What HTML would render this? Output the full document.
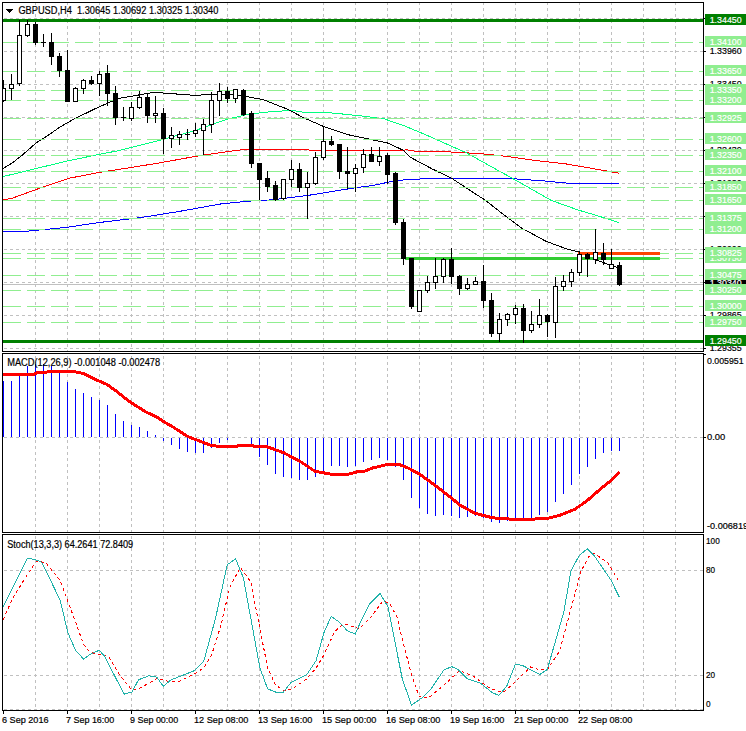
<!DOCTYPE html>
<html><head><meta charset="utf-8"><style>
html,body{margin:0;padding:0;background:#fff;width:746px;height:731px;overflow:hidden}
svg{display:block;font-family:"Liberation Sans", sans-serif}
</style></head><body>
<svg width="746" height="731" viewBox="0 0 746 731" shape-rendering="crispEdges"><defs><clipPath id="cm"><rect x="3" y="3" width="700" height="348"/></clipPath><clipPath id="cd"><rect x="3" y="354" width="700" height="178"/></clipPath><clipPath id="cs"><rect x="3" y="535" width="700" height="175"/></clipPath></defs><g clip-path="url(#cm)"><line x1="35.5" y1="3" x2="35.5" y2="351" stroke="#c0c0c0" stroke-dasharray="3 3" stroke-dashoffset="1"/><line x1="67.5" y1="3" x2="67.5" y2="351" stroke="#c0c0c0" stroke-dasharray="3 3" stroke-dashoffset="1"/><line x1="99.5" y1="3" x2="99.5" y2="351" stroke="#c0c0c0" stroke-dasharray="3 3" stroke-dashoffset="1"/><line x1="131.5" y1="3" x2="131.5" y2="351" stroke="#c0c0c0" stroke-dasharray="3 3" stroke-dashoffset="1"/><line x1="163.5" y1="3" x2="163.5" y2="351" stroke="#c0c0c0" stroke-dasharray="3 3" stroke-dashoffset="1"/><line x1="195.5" y1="3" x2="195.5" y2="351" stroke="#c0c0c0" stroke-dasharray="3 3" stroke-dashoffset="1"/><line x1="227.5" y1="3" x2="227.5" y2="351" stroke="#c0c0c0" stroke-dasharray="3 3" stroke-dashoffset="1"/><line x1="259.5" y1="3" x2="259.5" y2="351" stroke="#c0c0c0" stroke-dasharray="3 3" stroke-dashoffset="1"/><line x1="291.5" y1="3" x2="291.5" y2="351" stroke="#c0c0c0" stroke-dasharray="3 3" stroke-dashoffset="1"/><line x1="323.5" y1="3" x2="323.5" y2="351" stroke="#c0c0c0" stroke-dasharray="3 3" stroke-dashoffset="1"/><line x1="355.5" y1="3" x2="355.5" y2="351" stroke="#c0c0c0" stroke-dasharray="3 3" stroke-dashoffset="1"/><line x1="387.5" y1="3" x2="387.5" y2="351" stroke="#c0c0c0" stroke-dasharray="3 3" stroke-dashoffset="1"/><line x1="419.5" y1="3" x2="419.5" y2="351" stroke="#c0c0c0" stroke-dasharray="3 3" stroke-dashoffset="1"/><line x1="451.5" y1="3" x2="451.5" y2="351" stroke="#c0c0c0" stroke-dasharray="3 3" stroke-dashoffset="1"/><line x1="483.5" y1="3" x2="483.5" y2="351" stroke="#c0c0c0" stroke-dasharray="3 3" stroke-dashoffset="1"/><line x1="515.5" y1="3" x2="515.5" y2="351" stroke="#c0c0c0" stroke-dasharray="3 3" stroke-dashoffset="1"/><line x1="547.5" y1="3" x2="547.5" y2="351" stroke="#c0c0c0" stroke-dasharray="3 3" stroke-dashoffset="1"/><line x1="579.5" y1="3" x2="579.5" y2="351" stroke="#c0c0c0" stroke-dasharray="3 3" stroke-dashoffset="1"/><line x1="611.5" y1="3" x2="611.5" y2="351" stroke="#c0c0c0" stroke-dasharray="3 3" stroke-dashoffset="1"/><line x1="643.5" y1="3" x2="643.5" y2="351" stroke="#c0c0c0" stroke-dasharray="3 3" stroke-dashoffset="1"/><line x1="675.5" y1="3" x2="675.5" y2="351" stroke="#c0c0c0" stroke-dasharray="3 3" stroke-dashoffset="1"/><line x1="3" y1="18.5" x2="703" y2="18.5" stroke="#c0c0c0" stroke-dasharray="3 3" stroke-dashoffset="5"/><line x1="3" y1="51.5" x2="703" y2="51.5" stroke="#c0c0c0" stroke-dasharray="3 3" stroke-dashoffset="5"/><line x1="3" y1="84.5" x2="703" y2="84.5" stroke="#c0c0c0" stroke-dasharray="3 3" stroke-dashoffset="5"/><line x1="3" y1="117.5" x2="703" y2="117.5" stroke="#c0c0c0" stroke-dasharray="3 3" stroke-dashoffset="5"/><line x1="3" y1="150.5" x2="703" y2="150.5" stroke="#c0c0c0" stroke-dasharray="3 3" stroke-dashoffset="5"/><line x1="3" y1="183.5" x2="703" y2="183.5" stroke="#c0c0c0" stroke-dasharray="3 3" stroke-dashoffset="5"/><line x1="3" y1="216.5" x2="703" y2="216.5" stroke="#c0c0c0" stroke-dasharray="3 3" stroke-dashoffset="5"/><line x1="3" y1="249.5" x2="703" y2="249.5" stroke="#c0c0c0" stroke-dasharray="3 3" stroke-dashoffset="5"/><line x1="3" y1="282.5" x2="703" y2="282.5" stroke="#c0c0c0" stroke-dasharray="3 3" stroke-dashoffset="5"/><line x1="3" y1="315.5" x2="703" y2="315.5" stroke="#c0c0c0" stroke-dasharray="3 3" stroke-dashoffset="5"/><line x1="3" y1="348.5" x2="703" y2="348.5" stroke="#c0c0c0" stroke-dasharray="3 3" stroke-dashoffset="5"/><polyline points="3.0,199.9 11.5,198.5 37.8,188.9 68.9,178.3 98.5,172.5 120.0,169.2 157.9,163.2 200.8,155.4 241.1,149.8 296.0,149.8 335.4,150.4 407.6,150.0 415.8,151.3 448.7,151.9 480.0,153.6 504.3,156.1 534.3,160.4 566.5,164.0 598.7,169.6 619.0,173.2" fill="none" stroke="#ff0000" stroke-width="1" shape-rendering="crispEdges"/><polyline points="3.0,231.6 23.0,231.6 39.4,230.0 65.7,227.5 98.5,222.6 140.7,217.6 179.3,211.4 222.2,203.7 256.6,200.5 271.3,199.9 307.5,195.5 355.0,187.8 373.1,185.5 392.8,181.2 401.0,180.1 422.4,178.9 512.9,178.6 519.3,179.2 542.9,180.8 568.7,183.3 619.0,183.3" fill="none" stroke="#0000ff" stroke-width="1" shape-rendering="crispEdges"/><polyline points="3.0,176.6 23.0,171.7 67.3,161.0 98.5,154.5 116.3,151.1 162.3,139.6 195.1,130.6 226.3,119.4 249.3,114.1 270.7,111.7 292.0,110.4 303.5,112.3 325.0,112.3 341.4,113.9 362.9,116.1 384.3,118.9 405.8,126.4 427.2,135.4 448.7,145.0 465.8,152.5 480.0,160.4 512.9,178.6 551.5,200.5 577.2,209.7 598.7,216.1 619.0,222.6" fill="none" stroke="#00ff7f" stroke-width="1" shape-rendering="crispEdges"/><polyline points="3.0,168.4 12.3,163.0 23.0,154.5 36.1,143.0 47.6,135.6 60.7,126.6 72.2,120.0 95.0,108.8 118.0,98.6 154.0,92.3 193.5,95.3 215.0,94.5 238.0,95.1 246.1,96.4 262.2,99.5 266.9,101.1 289.0,109.8 302.4,117.2 323.8,126.6 348.5,134.8 368.2,138.9 387.9,143.1 402.7,150.0 410.9,157.6 431.5,168.6 451.9,178.4 470.0,190.4 485.0,200.0 504.3,215.1 521.5,228.0 546.0,241.3 567.4,249.2 578.9,252.0 597.0,260.2 610.0,265.1 619.0,267.8" fill="none" stroke="#000000" stroke-width="1" shape-rendering="crispEdges"/><line x1="3" y1="42.5" x2="703" y2="42.5" stroke="#90ee90" stroke-dasharray="18 6"/><line x1="3" y1="71.5" x2="703" y2="71.5" stroke="#90ee90" stroke-dasharray="18 6"/><line x1="3" y1="90.5" x2="703" y2="90.5" stroke="#90ee90" stroke-dasharray="18 6"/><line x1="3" y1="100.5" x2="703" y2="100.5" stroke="#90ee90" stroke-dasharray="18 6"/><line x1="3" y1="118.5" x2="703" y2="118.5" stroke="#90ee90" stroke-dasharray="18 6"/><line x1="3" y1="139.5" x2="703" y2="139.5" stroke="#90ee90" stroke-dasharray="18 6"/><line x1="3" y1="155.5" x2="703" y2="155.5" stroke="#90ee90" stroke-dasharray="18 6"/><line x1="3" y1="171.5" x2="703" y2="171.5" stroke="#90ee90" stroke-dasharray="18 6"/><line x1="3" y1="187.5" x2="703" y2="187.5" stroke="#90ee90" stroke-dasharray="18 6"/><line x1="3" y1="200.5" x2="703" y2="200.5" stroke="#90ee90" stroke-dasharray="18 6"/><line x1="3" y1="218.5" x2="703" y2="218.5" stroke="#90ee90" stroke-dasharray="18 6"/><line x1="3" y1="229.5" x2="703" y2="229.5" stroke="#90ee90" stroke-dasharray="18 6"/><line x1="3" y1="253.5" x2="703" y2="253.5" stroke="#90ee90" stroke-dasharray="18 6"/><line x1="3" y1="258.5" x2="703" y2="258.5" stroke="#90ee90" stroke-dasharray="18 6"/><line x1="3" y1="275.5" x2="703" y2="275.5" stroke="#90ee90" stroke-dasharray="18 6"/><line x1="3" y1="290.5" x2="703" y2="290.5" stroke="#90ee90" stroke-dasharray="18 6"/><line x1="3" y1="306.5" x2="703" y2="306.5" stroke="#90ee90" stroke-dasharray="18 6"/><line x1="3" y1="322.5" x2="703" y2="322.5" stroke="#90ee90" stroke-dasharray="18 6"/><line x1="3" y1="284.5" x2="703" y2="284.5" stroke="#c0c0c0"/><rect x="3" y="19" width="700" height="3" fill="#008000"/><rect x="3" y="340" width="700" height="3" fill="#008000"/><rect x="405" y="257" width="255" height="3" fill="#32cd32"/><rect x="578" y="252" width="82" height="3" fill="#ff4500"/><rect x="3" y="80" width="1" height="22" fill="#000"/><rect x="1" y="88" width="5" height="13" fill="#000"/><rect x="2" y="89" width="3" height="11" fill="#fff"/><rect x="11" y="74" width="1" height="26" fill="#000"/><rect x="9" y="84" width="5" height="5" fill="#000"/><rect x="10" y="85" width="3" height="3" fill="#fff"/><rect x="19" y="20" width="1" height="66" fill="#000"/><rect x="17" y="35" width="5" height="49" fill="#000"/><rect x="18" y="36" width="3" height="47" fill="#fff"/><rect x="27" y="20" width="1" height="17" fill="#000"/><rect x="25" y="24" width="5" height="12" fill="#000"/><rect x="26" y="25" width="3" height="10" fill="#fff"/><rect x="35" y="22" width="1" height="23" fill="#000"/><rect x="33" y="24" width="5" height="19" fill="#000"/><rect x="43" y="34" width="1" height="13" fill="#000"/><rect x="41" y="42" width="5" height="1" fill="#000"/><rect x="51" y="33" width="1" height="32" fill="#000"/><rect x="49" y="42" width="5" height="15" fill="#000"/><rect x="59" y="53" width="1" height="24" fill="#000"/><rect x="57" y="56" width="5" height="15" fill="#000"/><rect x="67" y="50" width="1" height="52" fill="#000"/><rect x="65" y="70" width="5" height="32" fill="#000"/><rect x="75" y="87" width="1" height="15" fill="#000"/><rect x="73" y="88" width="5" height="14" fill="#000"/><rect x="74" y="89" width="3" height="12" fill="#fff"/><rect x="83" y="79" width="1" height="15" fill="#000"/><rect x="81" y="80" width="5" height="9" fill="#000"/><rect x="82" y="81" width="3" height="7" fill="#fff"/><rect x="91" y="76" width="1" height="9" fill="#000"/><rect x="89" y="80" width="5" height="4" fill="#000"/><rect x="99" y="71" width="1" height="25" fill="#000"/><rect x="97" y="74" width="5" height="10" fill="#000"/><rect x="98" y="75" width="3" height="8" fill="#fff"/><rect x="107" y="65" width="1" height="41" fill="#000"/><rect x="105" y="73" width="5" height="21" fill="#000"/><rect x="115" y="86" width="1" height="39" fill="#000"/><rect x="113" y="93" width="5" height="25" fill="#000"/><rect x="123" y="107" width="1" height="14" fill="#000"/><rect x="121" y="117" width="5" height="1" fill="#000"/><rect x="131" y="102" width="1" height="19" fill="#000"/><rect x="129" y="107" width="5" height="12" fill="#000"/><rect x="130" y="108" width="3" height="10" fill="#fff"/><rect x="139" y="91" width="1" height="18" fill="#000"/><rect x="137" y="97" width="5" height="11" fill="#000"/><rect x="138" y="98" width="3" height="9" fill="#fff"/><rect x="147" y="93" width="1" height="30" fill="#000"/><rect x="145" y="97" width="5" height="19" fill="#000"/><rect x="155" y="96" width="1" height="27" fill="#000"/><rect x="153" y="113" width="5" height="3" fill="#000"/><rect x="154" y="114" width="3" height="1" fill="#fff"/><rect x="163" y="108" width="1" height="46" fill="#000"/><rect x="161" y="113" width="5" height="26" fill="#000"/><rect x="171" y="127" width="1" height="21" fill="#000"/><rect x="169" y="135" width="5" height="4" fill="#000"/><rect x="170" y="136" width="3" height="2" fill="#fff"/><rect x="179" y="131" width="1" height="14" fill="#000"/><rect x="177" y="134" width="5" height="4" fill="#000"/><rect x="178" y="135" width="3" height="2" fill="#fff"/><rect x="187" y="129" width="1" height="11" fill="#000"/><rect x="185" y="134" width="5" height="1" fill="#000"/><rect x="195" y="123" width="1" height="14" fill="#000"/><rect x="193" y="130" width="5" height="4" fill="#000"/><rect x="194" y="131" width="3" height="2" fill="#fff"/><rect x="203" y="119" width="1" height="36" fill="#000"/><rect x="201" y="124" width="5" height="7" fill="#000"/><rect x="202" y="125" width="3" height="5" fill="#fff"/><rect x="211" y="92" width="1" height="41" fill="#000"/><rect x="209" y="100" width="5" height="25" fill="#000"/><rect x="210" y="101" width="3" height="23" fill="#fff"/><rect x="219" y="83" width="1" height="33" fill="#000"/><rect x="217" y="91" width="5" height="10" fill="#000"/><rect x="218" y="92" width="3" height="8" fill="#fff"/><rect x="227" y="87" width="1" height="16" fill="#000"/><rect x="225" y="91" width="5" height="8" fill="#000"/><rect x="235" y="89" width="1" height="14" fill="#000"/><rect x="233" y="89" width="5" height="10" fill="#000"/><rect x="234" y="90" width="3" height="8" fill="#fff"/><rect x="243" y="89" width="1" height="27" fill="#000"/><rect x="241" y="90" width="5" height="25" fill="#000"/><rect x="251" y="111" width="1" height="57" fill="#000"/><rect x="249" y="113" width="5" height="51" fill="#000"/><rect x="259" y="163" width="1" height="37" fill="#000"/><rect x="257" y="163" width="5" height="17" fill="#000"/><rect x="267" y="171" width="1" height="21" fill="#000"/><rect x="265" y="178" width="5" height="9" fill="#000"/><rect x="275" y="181" width="1" height="20" fill="#000"/><rect x="273" y="185" width="5" height="15" fill="#000"/><rect x="283" y="179" width="1" height="21" fill="#000"/><rect x="281" y="179" width="5" height="20" fill="#000"/><rect x="282" y="180" width="3" height="18" fill="#fff"/><rect x="291" y="160" width="1" height="27" fill="#000"/><rect x="289" y="169" width="5" height="11" fill="#000"/><rect x="290" y="170" width="3" height="9" fill="#fff"/><rect x="299" y="163" width="1" height="29" fill="#000"/><rect x="297" y="169" width="5" height="19" fill="#000"/><rect x="307" y="172" width="1" height="47" fill="#000"/><rect x="305" y="183" width="5" height="5" fill="#000"/><rect x="306" y="184" width="3" height="3" fill="#fff"/><rect x="315" y="152" width="1" height="33" fill="#000"/><rect x="313" y="157" width="5" height="27" fill="#000"/><rect x="314" y="158" width="3" height="25" fill="#fff"/><rect x="323" y="126" width="1" height="34" fill="#000"/><rect x="321" y="141" width="5" height="17" fill="#000"/><rect x="322" y="142" width="3" height="15" fill="#fff"/><rect x="331" y="136" width="1" height="10" fill="#000"/><rect x="329" y="141" width="5" height="4" fill="#000"/><rect x="339" y="144" width="1" height="35" fill="#000"/><rect x="337" y="144" width="5" height="28" fill="#000"/><rect x="347" y="147" width="1" height="42" fill="#000"/><rect x="345" y="171" width="5" height="3" fill="#000"/><rect x="355" y="164" width="1" height="28" fill="#000"/><rect x="353" y="168" width="5" height="6" fill="#000"/><rect x="354" y="169" width="3" height="4" fill="#fff"/><rect x="363" y="149" width="1" height="24" fill="#000"/><rect x="361" y="154" width="5" height="14" fill="#000"/><rect x="362" y="155" width="3" height="12" fill="#fff"/><rect x="371" y="147" width="1" height="15" fill="#000"/><rect x="369" y="154" width="5" height="8" fill="#000"/><rect x="379" y="147" width="1" height="19" fill="#000"/><rect x="377" y="156" width="5" height="6" fill="#000"/><rect x="378" y="157" width="3" height="4" fill="#fff"/><rect x="387" y="153" width="1" height="31" fill="#000"/><rect x="385" y="155" width="5" height="20" fill="#000"/><rect x="395" y="172" width="1" height="53" fill="#000"/><rect x="393" y="173" width="5" height="50" fill="#000"/><rect x="403" y="219" width="1" height="46" fill="#000"/><rect x="401" y="222" width="5" height="37" fill="#000"/><rect x="411" y="258" width="1" height="51" fill="#000"/><rect x="409" y="258" width="5" height="49" fill="#000"/><rect x="419" y="290" width="1" height="22" fill="#000"/><rect x="417" y="290" width="5" height="22" fill="#000"/><rect x="418" y="291" width="3" height="20" fill="#fff"/><rect x="427" y="276" width="1" height="17" fill="#000"/><rect x="425" y="282" width="5" height="9" fill="#000"/><rect x="426" y="283" width="3" height="7" fill="#fff"/><rect x="435" y="258" width="1" height="31" fill="#000"/><rect x="433" y="276" width="5" height="7" fill="#000"/><rect x="434" y="277" width="3" height="5" fill="#fff"/><rect x="443" y="258" width="1" height="25" fill="#000"/><rect x="441" y="259" width="5" height="18" fill="#000"/><rect x="442" y="260" width="3" height="16" fill="#fff"/><rect x="451" y="248" width="1" height="36" fill="#000"/><rect x="449" y="259" width="5" height="18" fill="#000"/><rect x="459" y="275" width="1" height="20" fill="#000"/><rect x="457" y="276" width="5" height="13" fill="#000"/><rect x="467" y="278" width="1" height="12" fill="#000"/><rect x="465" y="284" width="5" height="5" fill="#000"/><rect x="466" y="285" width="3" height="3" fill="#fff"/><rect x="475" y="277" width="1" height="8" fill="#000"/><rect x="473" y="281" width="5" height="4" fill="#000"/><rect x="474" y="282" width="3" height="2" fill="#fff"/><rect x="483" y="265" width="1" height="43" fill="#000"/><rect x="481" y="281" width="5" height="20" fill="#000"/><rect x="491" y="293" width="1" height="44" fill="#000"/><rect x="489" y="300" width="5" height="34" fill="#000"/><rect x="499" y="313" width="1" height="29" fill="#000"/><rect x="497" y="319" width="5" height="15" fill="#000"/><rect x="498" y="320" width="3" height="13" fill="#fff"/><rect x="507" y="313" width="1" height="13" fill="#000"/><rect x="505" y="314" width="5" height="6" fill="#000"/><rect x="506" y="315" width="3" height="4" fill="#fff"/><rect x="515" y="305" width="1" height="19" fill="#000"/><rect x="513" y="308" width="5" height="7" fill="#000"/><rect x="514" y="309" width="3" height="5" fill="#fff"/><rect x="523" y="304" width="1" height="39" fill="#000"/><rect x="521" y="308" width="5" height="23" fill="#000"/><rect x="531" y="311" width="1" height="22" fill="#000"/><rect x="529" y="324" width="5" height="7" fill="#000"/><rect x="530" y="325" width="3" height="5" fill="#fff"/><rect x="539" y="299" width="1" height="29" fill="#000"/><rect x="537" y="315" width="5" height="10" fill="#000"/><rect x="538" y="316" width="3" height="8" fill="#fff"/><rect x="547" y="314" width="1" height="23" fill="#000"/><rect x="545" y="315" width="5" height="7" fill="#000"/><rect x="555" y="277" width="1" height="61" fill="#000"/><rect x="553" y="286" width="5" height="37" fill="#000"/><rect x="554" y="287" width="3" height="35" fill="#fff"/><rect x="563" y="275" width="1" height="16" fill="#000"/><rect x="561" y="281" width="5" height="6" fill="#000"/><rect x="562" y="282" width="3" height="4" fill="#fff"/><rect x="571" y="269" width="1" height="18" fill="#000"/><rect x="569" y="272" width="5" height="10" fill="#000"/><rect x="570" y="273" width="3" height="8" fill="#fff"/><rect x="579" y="251" width="1" height="25" fill="#000"/><rect x="577" y="254" width="5" height="19" fill="#000"/><rect x="578" y="255" width="3" height="17" fill="#fff"/><rect x="587" y="253" width="1" height="24" fill="#000"/><rect x="585" y="254" width="5" height="5" fill="#000"/><rect x="595" y="229" width="1" height="35" fill="#000"/><rect x="593" y="252" width="5" height="8" fill="#000"/><rect x="594" y="253" width="3" height="6" fill="#fff"/><rect x="603" y="243" width="1" height="22" fill="#000"/><rect x="601" y="253" width="5" height="7" fill="#000"/><rect x="611" y="249" width="1" height="20" fill="#000"/><rect x="609" y="264" width="5" height="5" fill="#000"/><rect x="610" y="265" width="3" height="3" fill="#fff"/><rect x="619" y="262" width="1" height="24" fill="#000"/><rect x="617" y="265" width="5" height="20" fill="#000"/></g><g clip-path="url(#cd)"><line x1="35.5" y1="354" x2="35.5" y2="532" stroke="#c0c0c0" stroke-dasharray="3 3" stroke-dashoffset="4"/><line x1="67.5" y1="354" x2="67.5" y2="532" stroke="#c0c0c0" stroke-dasharray="3 3" stroke-dashoffset="4"/><line x1="99.5" y1="354" x2="99.5" y2="532" stroke="#c0c0c0" stroke-dasharray="3 3" stroke-dashoffset="4"/><line x1="131.5" y1="354" x2="131.5" y2="532" stroke="#c0c0c0" stroke-dasharray="3 3" stroke-dashoffset="4"/><line x1="163.5" y1="354" x2="163.5" y2="532" stroke="#c0c0c0" stroke-dasharray="3 3" stroke-dashoffset="4"/><line x1="195.5" y1="354" x2="195.5" y2="532" stroke="#c0c0c0" stroke-dasharray="3 3" stroke-dashoffset="4"/><line x1="227.5" y1="354" x2="227.5" y2="532" stroke="#c0c0c0" stroke-dasharray="3 3" stroke-dashoffset="4"/><line x1="259.5" y1="354" x2="259.5" y2="532" stroke="#c0c0c0" stroke-dasharray="3 3" stroke-dashoffset="4"/><line x1="291.5" y1="354" x2="291.5" y2="532" stroke="#c0c0c0" stroke-dasharray="3 3" stroke-dashoffset="4"/><line x1="323.5" y1="354" x2="323.5" y2="532" stroke="#c0c0c0" stroke-dasharray="3 3" stroke-dashoffset="4"/><line x1="355.5" y1="354" x2="355.5" y2="532" stroke="#c0c0c0" stroke-dasharray="3 3" stroke-dashoffset="4"/><line x1="387.5" y1="354" x2="387.5" y2="532" stroke="#c0c0c0" stroke-dasharray="3 3" stroke-dashoffset="4"/><line x1="419.5" y1="354" x2="419.5" y2="532" stroke="#c0c0c0" stroke-dasharray="3 3" stroke-dashoffset="4"/><line x1="451.5" y1="354" x2="451.5" y2="532" stroke="#c0c0c0" stroke-dasharray="3 3" stroke-dashoffset="4"/><line x1="483.5" y1="354" x2="483.5" y2="532" stroke="#c0c0c0" stroke-dasharray="3 3" stroke-dashoffset="4"/><line x1="515.5" y1="354" x2="515.5" y2="532" stroke="#c0c0c0" stroke-dasharray="3 3" stroke-dashoffset="4"/><line x1="547.5" y1="354" x2="547.5" y2="532" stroke="#c0c0c0" stroke-dasharray="3 3" stroke-dashoffset="4"/><line x1="579.5" y1="354" x2="579.5" y2="532" stroke="#c0c0c0" stroke-dasharray="3 3" stroke-dashoffset="4"/><line x1="611.5" y1="354" x2="611.5" y2="532" stroke="#c0c0c0" stroke-dasharray="3 3" stroke-dashoffset="4"/><line x1="643.5" y1="354" x2="643.5" y2="532" stroke="#c0c0c0" stroke-dasharray="3 3" stroke-dashoffset="4"/><line x1="675.5" y1="354" x2="675.5" y2="532" stroke="#c0c0c0" stroke-dasharray="3 3" stroke-dashoffset="4"/><line x1="3" y1="437.5" x2="703" y2="437.5" stroke="#c0c0c0" stroke-dasharray="3 3" stroke-dashoffset="5"/><rect x="3" y="381" width="1" height="56" fill="#0000ff"/><rect x="11" y="381" width="1" height="56" fill="#0000ff"/><rect x="19" y="375" width="1" height="62" fill="#0000ff"/><rect x="27" y="366" width="1" height="71" fill="#0000ff"/><rect x="35" y="364" width="1" height="73" fill="#0000ff"/><rect x="43" y="364" width="1" height="73" fill="#0000ff"/><rect x="51" y="366" width="1" height="71" fill="#0000ff"/><rect x="59" y="373" width="1" height="64" fill="#0000ff"/><rect x="67" y="382" width="1" height="55" fill="#0000ff"/><rect x="75" y="389" width="1" height="48" fill="#0000ff"/><rect x="83" y="393" width="1" height="44" fill="#0000ff"/><rect x="91" y="397" width="1" height="40" fill="#0000ff"/><rect x="99" y="400" width="1" height="37" fill="#0000ff"/><rect x="107" y="405" width="1" height="32" fill="#0000ff"/><rect x="115" y="414" width="1" height="23" fill="#0000ff"/><rect x="123" y="421" width="1" height="16" fill="#0000ff"/><rect x="131" y="425" width="1" height="12" fill="#0000ff"/><rect x="139" y="427" width="1" height="10" fill="#0000ff"/><rect x="147" y="431" width="1" height="6" fill="#0000ff"/><rect x="155" y="435" width="1" height="2" fill="#0000ff"/><rect x="163" y="438" width="1" height="3" fill="#0000ff"/><rect x="171" y="438" width="1" height="7" fill="#0000ff"/><rect x="179" y="438" width="1" height="11" fill="#0000ff"/><rect x="187" y="438" width="1" height="14" fill="#0000ff"/><rect x="195" y="438" width="1" height="15" fill="#0000ff"/><rect x="203" y="438" width="1" height="15" fill="#0000ff"/><rect x="211" y="438" width="1" height="10" fill="#0000ff"/><rect x="219" y="438" width="1" height="5" fill="#0000ff"/><rect x="227" y="438" width="1" height="2" fill="#0000ff"/><rect x="251" y="438" width="1" height="7" fill="#0000ff"/><rect x="259" y="438" width="1" height="19" fill="#0000ff"/><rect x="267" y="438" width="1" height="27" fill="#0000ff"/><rect x="275" y="438" width="1" height="36" fill="#0000ff"/><rect x="283" y="438" width="1" height="39" fill="#0000ff"/><rect x="291" y="438" width="1" height="40" fill="#0000ff"/><rect x="299" y="438" width="1" height="42" fill="#0000ff"/><rect x="307" y="438" width="1" height="42" fill="#0000ff"/><rect x="315" y="438" width="1" height="39" fill="#0000ff"/><rect x="323" y="438" width="1" height="33" fill="#0000ff"/><rect x="331" y="438" width="1" height="28" fill="#0000ff"/><rect x="339" y="438" width="1" height="28" fill="#0000ff"/><rect x="347" y="438" width="1" height="29" fill="#0000ff"/><rect x="355" y="438" width="1" height="28" fill="#0000ff"/><rect x="363" y="438" width="1" height="24" fill="#0000ff"/><rect x="371" y="438" width="1" height="22" fill="#0000ff"/><rect x="379" y="438" width="1" height="20" fill="#0000ff"/><rect x="387" y="438" width="1" height="22" fill="#0000ff"/><rect x="395" y="438" width="1" height="29" fill="#0000ff"/><rect x="403" y="438" width="1" height="42" fill="#0000ff"/><rect x="411" y="438" width="1" height="60" fill="#0000ff"/><rect x="419" y="438" width="1" height="70" fill="#0000ff"/><rect x="427" y="438" width="1" height="76" fill="#0000ff"/><rect x="435" y="438" width="1" height="78" fill="#0000ff"/><rect x="443" y="438" width="1" height="77" fill="#0000ff"/><rect x="451" y="438" width="1" height="78" fill="#0000ff"/><rect x="459" y="438" width="1" height="80" fill="#0000ff"/><rect x="467" y="438" width="1" height="79" fill="#0000ff"/><rect x="475" y="438" width="1" height="78" fill="#0000ff"/><rect x="483" y="438" width="1" height="80" fill="#0000ff"/><rect x="491" y="438" width="1" height="84" fill="#0000ff"/><rect x="499" y="438" width="1" height="85" fill="#0000ff"/><rect x="507" y="438" width="1" height="83" fill="#0000ff"/><rect x="515" y="438" width="1" height="80" fill="#0000ff"/><rect x="523" y="438" width="1" height="81" fill="#0000ff"/><rect x="531" y="438" width="1" height="81" fill="#0000ff"/><rect x="539" y="438" width="1" height="77" fill="#0000ff"/><rect x="547" y="438" width="1" height="74" fill="#0000ff"/><rect x="555" y="438" width="1" height="64" fill="#0000ff"/><rect x="563" y="438" width="1" height="56" fill="#0000ff"/><rect x="571" y="438" width="1" height="47" fill="#0000ff"/><rect x="579" y="438" width="1" height="36" fill="#0000ff"/><rect x="587" y="438" width="1" height="29" fill="#0000ff"/><rect x="595" y="438" width="1" height="21" fill="#0000ff"/><rect x="603" y="438" width="1" height="15" fill="#0000ff"/><rect x="611" y="438" width="1" height="13" fill="#0000ff"/><rect x="619" y="438" width="1" height="13" fill="#0000ff"/><polyline points="3.0,374.0 34.6,374.0 37.0,372.7 59.5,371.1 75.6,371.9 83.6,373.5 96.5,380.0 106.2,384.0 114.8,390.0 129.3,401.5 146.2,412.1 155.8,416.5 164.3,422.0 172.7,426.8 182.4,433.2 188.4,436.8 211.0,445.4 220.7,446.6 235.2,446.6 240.0,445.4 266.5,446.6 283.4,452.6 300.3,461.5 314.8,471.2 331.7,474.3 345.0,475.0 357.1,471.9 363.1,471.9 371.5,468.3 388.4,464.2 399.3,464.6 407.7,467.8 419.8,474.3 434.3,484.7 448.8,496.0 460.8,505.7 475.3,513.4 492.2,517.7 504.3,518.9 525.0,519.4 547.3,518.5 559.4,515.4 574.5,509.4 586.6,501.2 600.3,489.1 610.9,480.6 619.4,472.1" fill="none" stroke="#ff0000" stroke-width="3" stroke-linejoin="round"/></g><g clip-path="url(#cs)"><line x1="35.5" y1="535" x2="35.5" y2="710" stroke="#c0c0c0" stroke-dasharray="3 3" stroke-dashoffset="5"/><line x1="67.5" y1="535" x2="67.5" y2="710" stroke="#c0c0c0" stroke-dasharray="3 3" stroke-dashoffset="5"/><line x1="99.5" y1="535" x2="99.5" y2="710" stroke="#c0c0c0" stroke-dasharray="3 3" stroke-dashoffset="5"/><line x1="131.5" y1="535" x2="131.5" y2="710" stroke="#c0c0c0" stroke-dasharray="3 3" stroke-dashoffset="5"/><line x1="163.5" y1="535" x2="163.5" y2="710" stroke="#c0c0c0" stroke-dasharray="3 3" stroke-dashoffset="5"/><line x1="195.5" y1="535" x2="195.5" y2="710" stroke="#c0c0c0" stroke-dasharray="3 3" stroke-dashoffset="5"/><line x1="227.5" y1="535" x2="227.5" y2="710" stroke="#c0c0c0" stroke-dasharray="3 3" stroke-dashoffset="5"/><line x1="259.5" y1="535" x2="259.5" y2="710" stroke="#c0c0c0" stroke-dasharray="3 3" stroke-dashoffset="5"/><line x1="291.5" y1="535" x2="291.5" y2="710" stroke="#c0c0c0" stroke-dasharray="3 3" stroke-dashoffset="5"/><line x1="323.5" y1="535" x2="323.5" y2="710" stroke="#c0c0c0" stroke-dasharray="3 3" stroke-dashoffset="5"/><line x1="355.5" y1="535" x2="355.5" y2="710" stroke="#c0c0c0" stroke-dasharray="3 3" stroke-dashoffset="5"/><line x1="387.5" y1="535" x2="387.5" y2="710" stroke="#c0c0c0" stroke-dasharray="3 3" stroke-dashoffset="5"/><line x1="419.5" y1="535" x2="419.5" y2="710" stroke="#c0c0c0" stroke-dasharray="3 3" stroke-dashoffset="5"/><line x1="451.5" y1="535" x2="451.5" y2="710" stroke="#c0c0c0" stroke-dasharray="3 3" stroke-dashoffset="5"/><line x1="483.5" y1="535" x2="483.5" y2="710" stroke="#c0c0c0" stroke-dasharray="3 3" stroke-dashoffset="5"/><line x1="515.5" y1="535" x2="515.5" y2="710" stroke="#c0c0c0" stroke-dasharray="3 3" stroke-dashoffset="5"/><line x1="547.5" y1="535" x2="547.5" y2="710" stroke="#c0c0c0" stroke-dasharray="3 3" stroke-dashoffset="5"/><line x1="579.5" y1="535" x2="579.5" y2="710" stroke="#c0c0c0" stroke-dasharray="3 3" stroke-dashoffset="5"/><line x1="611.5" y1="535" x2="611.5" y2="710" stroke="#c0c0c0" stroke-dasharray="3 3" stroke-dashoffset="5"/><line x1="643.5" y1="535" x2="643.5" y2="710" stroke="#c0c0c0" stroke-dasharray="3 3" stroke-dashoffset="5"/><line x1="675.5" y1="535" x2="675.5" y2="710" stroke="#c0c0c0" stroke-dasharray="3 3" stroke-dashoffset="5"/><line x1="3" y1="570.5" x2="703" y2="570.5" stroke="#c0c0c0" stroke-dasharray="3 3" stroke-dashoffset="5"/><line x1="3" y1="675.5" x2="703" y2="675.5" stroke="#c0c0c0" stroke-dasharray="3 3" stroke-dashoffset="5"/><line x1="3" y1="709.5" x2="703" y2="709.5" stroke="#c0c0c0" stroke-dasharray="3 3" stroke-dashoffset="5"/><polyline points="3.1,619.7 13.1,597.5 26.1,576.6 36.6,560.9 45.7,562.7 60.1,580.5 67.9,601.4 77.1,626.2 83.6,644.5 90.1,652.3 99.3,654.4 108.4,656.2 120.2,675.8 131.9,690.2 141.1,687.6 156.7,678.5 167.2,681.1 180.0,681.1 194.6,673.8 203.7,668.0 211.6,655.0 220.7,626.2 229.9,587.0 240.3,567.4 250.8,581.8 259.9,628.8 267.7,668.0 275.6,685.0 284.7,691.0 292.6,688.4 305.6,679.8 316.1,668.0 323.9,655.0 334.4,632.0 343.5,623.6 359.1,628.8 370.9,617.1 382.7,601.4 389.2,602.7 397.0,617.1 404.9,649.7 412.7,678.5 419.2,696.7 428.4,698.0 444.0,685.0 459.7,670.6 472.8,675.8 488.5,687.6 502.8,692.8 514.6,682.4 530.6,666.9 538.2,669.4 547.3,670.0 559.4,651.2 568.5,617.9 580.6,572.4 588.2,557.3 594.2,553.3 607.8,562.7 619.4,582.1" fill="none" stroke="#ff0000" stroke-width="1" stroke-dasharray="3 3" shape-rendering="crispEdges"/><polyline points="3.1,606.6 27.4,558.3 35.3,559.6 41.8,562.2 60.1,600.1 67.9,632.7 75.8,651.0 83.6,658.9 91.4,653.6 99.3,650.2 104.5,656.2 124.1,694.1 131.9,692.0 138.5,679.8 148.9,675.8 156.7,677.1 163.3,686.3 171.1,679.8 182.8,675.3 194.6,670.6 203.7,661.5 215.5,618.4 227.2,564.8 235.6,558.8 243.4,577.9 259.9,668.0 267.7,688.9 275.6,692.0 283.4,692.0 291.2,682.4 306.9,674.5 316.1,660.7 323.9,632.7 331.2,616.5 339.6,622.3 347.4,630.9 355.2,634.0 360.4,622.3 369.6,604.0 380.0,593.6 387.9,606.6 402.2,678.5 411.4,705.1 421.8,698.0 431.0,688.9 444.0,669.8 451.9,666.7 458.4,669.8 467.6,679.0 480.6,683.2 492.4,692.8 498.9,695.4 506.7,686.3 515.4,664.1 522.4,665.4 539.7,674.5 547.3,669.4 563.9,611.8 570.9,570.9 579.1,555.7 587.3,548.8 594.2,555.7 610.9,580.0 619.4,597.3" fill="none" stroke="#20b2aa" stroke-width="1" shape-rendering="crispEdges"/></g><rect x="2" y="2" width="702" height="1" fill="#000"/><rect x="2" y="351" width="702" height="1" fill="#000"/><rect x="2" y="2" width="1" height="350" fill="#000"/><rect x="703" y="2" width="1" height="350" fill="#000"/><rect x="2" y="353" width="702" height="1" fill="#000"/><rect x="2" y="532" width="702" height="1" fill="#000"/><rect x="2" y="353" width="1" height="180" fill="#000"/><rect x="703" y="353" width="1" height="180" fill="#000"/><rect x="2" y="534" width="702" height="1" fill="#000"/><rect x="2" y="710" width="702" height="1" fill="#000"/><rect x="2" y="534" width="1" height="177" fill="#000"/><rect x="703" y="534" width="1" height="177" fill="#000"/><path d="M6,9 L13,9 L9.5,13 Z" fill="#000"/><text x="18.4" y="14" font-size="10" fill="#000" stroke="#000" stroke-width="0.2" textLength="200" lengthAdjust="spacingAndGlyphs" xml:space="preserve">GBPUSD,H4  1.30645 1.30692 1.30325 1.30340</text><text x="7.2" y="366" font-size="10" fill="#000" stroke="#000" stroke-width="0.2" textLength="153" lengthAdjust="spacingAndGlyphs" xml:space="preserve">MACD(12,26,9) -0.001048 -0.002478</text><text x="7.2" y="548" font-size="10" fill="#000" stroke="#000" stroke-width="0.2" textLength="126" lengthAdjust="spacingAndGlyphs" xml:space="preserve">Stoch(13,3,3) 64.2641 72.8409</text><rect x="704" y="18" width="2" height="1" fill="#000"/><rect x="704" y="51" width="2" height="1" fill="#000"/><rect x="704" y="84" width="2" height="1" fill="#000"/><rect x="704" y="117" width="2" height="1" fill="#000"/><rect x="704" y="150" width="2" height="1" fill="#000"/><rect x="704" y="183" width="2" height="1" fill="#000"/><rect x="704" y="216" width="2" height="1" fill="#000"/><rect x="704" y="249" width="2" height="1" fill="#000"/><rect x="704" y="282" width="2" height="1" fill="#000"/><rect x="704" y="315" width="2" height="1" fill="#000"/><rect x="704" y="348" width="2" height="1" fill="#000"/><text x="709.7" y="54" font-size="9.6" fill="#000" stroke="#000" stroke-width="0.2" textLength="32.0" lengthAdjust="spacingAndGlyphs" xml:space="preserve">1.33960</text><text x="709.7" y="87" font-size="9.6" fill="#000" stroke="#000" stroke-width="0.2" textLength="32.0" lengthAdjust="spacingAndGlyphs" xml:space="preserve">1.33450</text><text x="709.7" y="153" font-size="9.6" fill="#000" stroke="#000" stroke-width="0.2" textLength="32.0" lengthAdjust="spacingAndGlyphs" xml:space="preserve">1.32430</text><text x="709.7" y="186" font-size="9.6" fill="#000" stroke="#000" stroke-width="0.2" textLength="32.0" lengthAdjust="spacingAndGlyphs" xml:space="preserve">1.31920</text><text x="709.7" y="252" font-size="9.6" fill="#000" stroke="#000" stroke-width="0.2" textLength="32.0" lengthAdjust="spacingAndGlyphs" xml:space="preserve">1.30900</text><text x="709.7" y="318" font-size="9.6" fill="#000" stroke="#000" stroke-width="0.2" textLength="32.0" lengthAdjust="spacingAndGlyphs" xml:space="preserve">1.29865</text><text x="709.7" y="351" font-size="9.6" fill="#000" stroke="#000" stroke-width="0.2" textLength="32.0" lengthAdjust="spacingAndGlyphs" xml:space="preserve">1.29355</text><rect x="705" y="278" width="41" height="11" fill="#000"/><text x="709.7" y="286" font-size="9.6" fill="#fff" stroke="#fff" stroke-width="0.2" textLength="32.0" lengthAdjust="spacingAndGlyphs" xml:space="preserve">1.30340</text><rect x="705" y="316" width="41" height="11" fill="#90ee90"/><text x="709.7" y="325" font-size="9.6" fill="#fff" stroke="#fff" stroke-width="0.2" textLength="32.0" lengthAdjust="spacingAndGlyphs" xml:space="preserve">1.29750</text><rect x="705" y="300" width="41" height="11" fill="#90ee90"/><text x="709.7" y="309" font-size="9.6" fill="#fff" stroke="#fff" stroke-width="0.2" textLength="32.0" lengthAdjust="spacingAndGlyphs" xml:space="preserve">1.30000</text><rect x="705" y="284" width="41" height="11" fill="#90ee90"/><text x="709.7" y="293" font-size="9.6" fill="#fff" stroke="#fff" stroke-width="0.2" textLength="32.0" lengthAdjust="spacingAndGlyphs" xml:space="preserve">1.30250</text><rect x="705" y="269" width="41" height="11" fill="#90ee90"/><text x="709.7" y="278" font-size="9.6" fill="#fff" stroke="#fff" stroke-width="0.2" textLength="32.0" lengthAdjust="spacingAndGlyphs" xml:space="preserve">1.30475</text><rect x="705" y="252" width="41" height="11" fill="#90ee90"/><text x="709.7" y="261" font-size="9.6" fill="#fff" stroke="#fff" stroke-width="0.2" textLength="32.0" lengthAdjust="spacingAndGlyphs" xml:space="preserve">1.30750</text><rect x="705" y="247" width="41" height="11" fill="#90ee90"/><text x="709.7" y="256" font-size="9.6" fill="#fff" stroke="#fff" stroke-width="0.2" textLength="32.0" lengthAdjust="spacingAndGlyphs" xml:space="preserve">1.30825</text><rect x="705" y="223" width="41" height="11" fill="#90ee90"/><text x="709.7" y="232" font-size="9.6" fill="#fff" stroke="#fff" stroke-width="0.2" textLength="32.0" lengthAdjust="spacingAndGlyphs" xml:space="preserve">1.31200</text><rect x="705" y="212" width="41" height="11" fill="#90ee90"/><text x="709.7" y="221" font-size="9.6" fill="#fff" stroke="#fff" stroke-width="0.2" textLength="32.0" lengthAdjust="spacingAndGlyphs" xml:space="preserve">1.31375</text><rect x="705" y="194" width="41" height="11" fill="#90ee90"/><text x="709.7" y="203" font-size="9.6" fill="#fff" stroke="#fff" stroke-width="0.2" textLength="32.0" lengthAdjust="spacingAndGlyphs" xml:space="preserve">1.31650</text><rect x="705" y="181" width="41" height="11" fill="#90ee90"/><text x="709.7" y="190" font-size="9.6" fill="#fff" stroke="#fff" stroke-width="0.2" textLength="32.0" lengthAdjust="spacingAndGlyphs" xml:space="preserve">1.31850</text><rect x="705" y="165" width="41" height="11" fill="#90ee90"/><text x="709.7" y="174" font-size="9.6" fill="#fff" stroke="#fff" stroke-width="0.2" textLength="32.0" lengthAdjust="spacingAndGlyphs" xml:space="preserve">1.32100</text><rect x="705" y="149" width="41" height="11" fill="#90ee90"/><text x="709.7" y="158" font-size="9.6" fill="#fff" stroke="#fff" stroke-width="0.2" textLength="32.0" lengthAdjust="spacingAndGlyphs" xml:space="preserve">1.32350</text><rect x="705" y="133" width="41" height="11" fill="#90ee90"/><text x="709.7" y="142" font-size="9.6" fill="#fff" stroke="#fff" stroke-width="0.2" textLength="32.0" lengthAdjust="spacingAndGlyphs" xml:space="preserve">1.32600</text><rect x="705" y="112" width="41" height="11" fill="#90ee90"/><text x="709.7" y="121" font-size="9.6" fill="#fff" stroke="#fff" stroke-width="0.2" textLength="32.0" lengthAdjust="spacingAndGlyphs" xml:space="preserve">1.32925</text><rect x="705" y="94" width="41" height="11" fill="#90ee90"/><text x="709.7" y="103" font-size="9.6" fill="#fff" stroke="#fff" stroke-width="0.2" textLength="32.0" lengthAdjust="spacingAndGlyphs" xml:space="preserve">1.33200</text><rect x="705" y="84" width="41" height="11" fill="#90ee90"/><text x="709.7" y="93" font-size="9.6" fill="#fff" stroke="#fff" stroke-width="0.2" textLength="32.0" lengthAdjust="spacingAndGlyphs" xml:space="preserve">1.33350</text><rect x="705" y="65" width="41" height="11" fill="#90ee90"/><text x="709.7" y="74" font-size="9.6" fill="#fff" stroke="#fff" stroke-width="0.2" textLength="32.0" lengthAdjust="spacingAndGlyphs" xml:space="preserve">1.33650</text><rect x="705" y="36" width="41" height="11" fill="#90ee90"/><text x="709.7" y="45" font-size="9.6" fill="#fff" stroke="#fff" stroke-width="0.2" textLength="32.0" lengthAdjust="spacingAndGlyphs" xml:space="preserve">1.34100</text><rect x="705" y="14" width="41" height="11" fill="#008000"/><text x="709.7" y="23" font-size="9.6" fill="#fff" stroke="#fff" stroke-width="0.2" textLength="32.0" lengthAdjust="spacingAndGlyphs" xml:space="preserve">1.34450</text><rect x="705" y="335" width="41" height="11" fill="#008000"/><text x="709.7" y="344" font-size="9.6" fill="#fff" stroke="#fff" stroke-width="0.2" textLength="32.0" lengthAdjust="spacingAndGlyphs" xml:space="preserve">1.29450</text><rect x="704" y="354" width="2" height="1" fill="#000"/><text x="707" y="364" font-size="9.6" fill="#000" stroke="#000" stroke-width="0.2" textLength="36.6" lengthAdjust="spacingAndGlyphs" xml:space="preserve">0.005951</text><rect x="704" y="437" width="2" height="1" fill="#000"/><text x="707" y="440" font-size="9.6" fill="#000" stroke="#000" stroke-width="0.2" textLength="18.3" lengthAdjust="spacingAndGlyphs" xml:space="preserve">0.00</text><text x="707" y="529" font-size="9.6" fill="#000" stroke="#000" stroke-width="0.2" textLength="41.1" lengthAdjust="spacingAndGlyphs" xml:space="preserve">-0.006819</text><text x="706" y="544" font-size="9.6" fill="#000" stroke="#000" stroke-width="0.2" textLength="13.7" lengthAdjust="spacingAndGlyphs" xml:space="preserve">100</text><text x="706" y="573" font-size="9.6" fill="#000" stroke="#000" stroke-width="0.2" textLength="9.1" lengthAdjust="spacingAndGlyphs" xml:space="preserve">80</text><text x="706" y="678" font-size="9.6" fill="#000" stroke="#000" stroke-width="0.2" textLength="9.1" lengthAdjust="spacingAndGlyphs" xml:space="preserve">20</text><text x="706" y="707" font-size="9.6" fill="#000" stroke="#000" stroke-width="0.2" textLength="4.6" lengthAdjust="spacingAndGlyphs" xml:space="preserve">0</text><rect x="3" y="711" width="1" height="3" fill="#000"/><text x="2" y="723" font-size="9.6" fill="#000" stroke="#000" stroke-width="0.2" textLength="46.5" lengthAdjust="spacingAndGlyphs" xml:space="preserve">6 Sep 2016</text><rect x="67" y="711" width="1" height="3" fill="#000"/><text x="66" y="723" font-size="9.6" fill="#000" stroke="#000" stroke-width="0.2" textLength="48.3" lengthAdjust="spacingAndGlyphs" xml:space="preserve">7 Sep 16:00</text><rect x="131" y="711" width="1" height="3" fill="#000"/><text x="130" y="723" font-size="9.6" fill="#000" stroke="#000" stroke-width="0.2" textLength="48.3" lengthAdjust="spacingAndGlyphs" xml:space="preserve">9 Sep 00:00</text><rect x="195" y="711" width="1" height="3" fill="#000"/><text x="194" y="723" font-size="9.6" fill="#000" stroke="#000" stroke-width="0.2" textLength="54.4" lengthAdjust="spacingAndGlyphs" xml:space="preserve">12 Sep 08:00</text><rect x="259" y="711" width="1" height="3" fill="#000"/><text x="258" y="723" font-size="9.6" fill="#000" stroke="#000" stroke-width="0.2" textLength="54.4" lengthAdjust="spacingAndGlyphs" xml:space="preserve">13 Sep 16:00</text><rect x="323" y="711" width="1" height="3" fill="#000"/><text x="322" y="723" font-size="9.6" fill="#000" stroke="#000" stroke-width="0.2" textLength="54.4" lengthAdjust="spacingAndGlyphs" xml:space="preserve">15 Sep 00:00</text><rect x="387" y="711" width="1" height="3" fill="#000"/><text x="386" y="723" font-size="9.6" fill="#000" stroke="#000" stroke-width="0.2" textLength="54.4" lengthAdjust="spacingAndGlyphs" xml:space="preserve">16 Sep 08:00</text><rect x="451" y="711" width="1" height="3" fill="#000"/><text x="450" y="723" font-size="9.6" fill="#000" stroke="#000" stroke-width="0.2" textLength="54.4" lengthAdjust="spacingAndGlyphs" xml:space="preserve">19 Sep 16:00</text><rect x="515" y="711" width="1" height="3" fill="#000"/><text x="514" y="723" font-size="9.6" fill="#000" stroke="#000" stroke-width="0.2" textLength="54.4" lengthAdjust="spacingAndGlyphs" xml:space="preserve">21 Sep 00:00</text><rect x="579" y="711" width="1" height="3" fill="#000"/><text x="578" y="723" font-size="9.6" fill="#000" stroke="#000" stroke-width="0.2" textLength="54.4" lengthAdjust="spacingAndGlyphs" xml:space="preserve">22 Sep 08:00</text></svg>
</body></html>
